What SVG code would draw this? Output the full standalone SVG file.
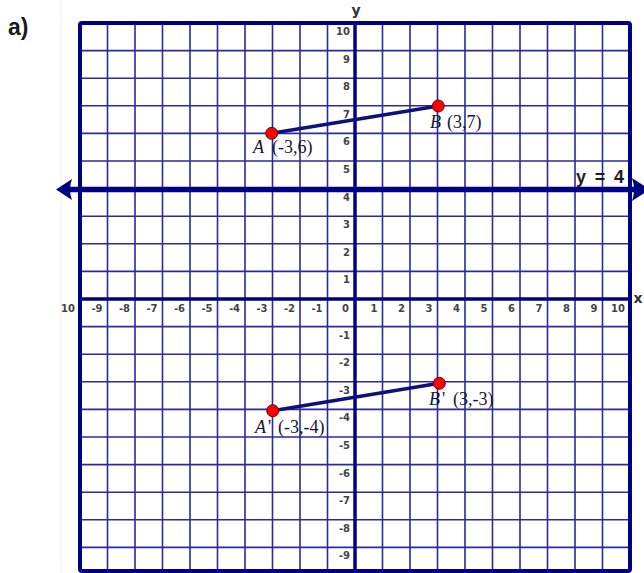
<svg xmlns="http://www.w3.org/2000/svg" width="644" height="573" viewBox="0 0 644 573">
<style>
.g{stroke:#2a2a9e;stroke-width:1.6;fill:none}
.ax{stroke:#000084;stroke-width:3.5;fill:none}
.t{font-family:"DejaVu Sans","Liberation Sans",sans-serif;font-size:10px;font-weight:bold;fill:#444444}
.ty{text-anchor:end}
.lb{font-family:"Liberation Serif","Times New Roman",serif;font-size:18px;fill:#161630}
.it{font-style:italic}
.pt{fill:#ff0000;stroke:#7a0000;stroke-width:1}
.seg{stroke:#10107a;stroke-width:3.5;fill:none;stroke-linecap:round}
</style>
<rect x="0" y="0" width="644" height="573" fill="#ffffff"/>
<line x1="61" y1="0" x2="61" y2="573" stroke="#f0f0f0" stroke-width="1"/>
<text x="8" y="35" font-family="Liberation Sans, Arial, sans-serif" font-size="23" font-weight="bold" fill="#1a1a1a">a)</text>

<g id="grid">
<g class="g">
<path d="M107.5 23V571M135 23V571M162.5 23V571M190 23V571M217.5 23V571M245 23V571M272.5 23V571M300 23V571M327.5 23V571M382.5 23V571M410 23V571M437.5 23V571M465 23V571M492.5 23V571M520 23V571M547.5 23V571M575 23V571M602.5 23V571"/>
<path d="M80 50.6H630M80 78.2H630M80 105.8H630M80 133.4H630M80 161H630M80 188.6H630M80 216.2H630M80 243.8H630M80 271.4H630M80 326.6H630M80 354.2H630M80 381.8H630M80 409.4H630M80 437H630M80 464.6H630M80 492.2H630M80 519.8H630M80 547.4H630"/>
</g>
<rect x="80" y="23" width="550" height="548" rx="2" fill="none" stroke="#000084" stroke-width="4"/>
<line class="ax" x1="80" y1="299" x2="630" y2="299"/>
<line class="ax" x1="355" y1="23" x2="355" y2="571"/>
</g>

<g id="axis-labels">
<text x="356" y="15" font-family="DejaVu Sans, sans-serif" font-size="14" font-weight="bold" fill="#333" text-anchor="middle">y</text>
<text x="638" y="303" font-family="DejaVu Sans, sans-serif" font-size="14" font-weight="bold" fill="#333" text-anchor="middle">x</text>
<g class="t ty">
<text x="350" y="35">10</text>
<text x="350" y="62.6">9</text>
<text x="350" y="90.2">8</text>
<text x="350" y="117.8">7</text>
<text x="350" y="145.4">6</text>
<text x="350" y="173">5</text>
<text x="350" y="200.6">4</text>
<text x="350" y="228.2">3</text>
<text x="350" y="255.8">2</text>
<text x="350" y="283.4">1</text>
<text x="350" y="338.6">-1</text>
<text x="350" y="366.2">-2</text>
<text x="350" y="393.8">-3</text>
<text x="350" y="421.4">-4</text>
<text x="350" y="449">-5</text>
<text x="350" y="476.6">-6</text>
<text x="350" y="504.2">-7</text>
<text x="350" y="531.8">-8</text>
<text x="350" y="559.4">-9</text>
</g>
<g class="t ty">
<text x="75" y="312">10</text>
<text x="102.5" y="312">-9</text>
<text x="130" y="312">-8</text>
<text x="157.5" y="312">-7</text>
<text x="185" y="312">-6</text>
<text x="212.5" y="312">-5</text>
<text x="240" y="312">-4</text>
<text x="267.5" y="312">-3</text>
<text x="295" y="312">-2</text>
<text x="322.5" y="312">-1</text>
<text x="349" y="312">0</text>
<text x="377.5" y="312">1</text>
<text x="405" y="312">2</text>
<text x="432.5" y="312">3</text>
<text x="460" y="312">4</text>
<text x="487.5" y="312">5</text>
<text x="515" y="312">6</text>
<text x="542.5" y="312">7</text>
<text x="570" y="312">8</text>
<text x="597.5" y="312">9</text>
<text x="625" y="312">10</text>
</g>
</g>

<g id="line-y4">
<line x1="66" y1="189.5" x2="634" y2="189.5" stroke="#000084" stroke-width="5.5"/>
<path d="M56 189.5L72 179Q68 189.5 72 200Z" fill="#000084"/>
<path d="M650 189.5L632 178Q636 189.5 632 201Z" fill="#000084"/>
<text x="576" y="183" font-family="Liberation Sans, Arial, sans-serif" font-size="18" font-weight="bold" fill="#1e1e1e" textLength="48" lengthAdjust="spacing">y = 4</text>
</g>

<g id="connectors">
<line class="seg" x1="271.7" y1="133.3" x2="438.3" y2="106"/>
<line class="seg" x1="272.7" y1="410.7" x2="439.3" y2="383.3"/>
</g>

<g id="A">
<circle class="pt" cx="271.7" cy="133.3" r="6"/>
<text class="lb" y="153"><tspan class="it" x="253">A</tspan><tspan x="272">(-3,6)</tspan></text>
</g>
<g id="B">
<circle class="pt" cx="438.3" cy="106" r="6"/>
<text class="lb" y="128"><tspan class="it" x="430">B</tspan><tspan x="447">(3,7)</tspan></text>
</g>
<g id="A-prime">
<circle class="pt" cx="272.7" cy="410.7" r="6"/>
<text class="lb" y="433"><tspan class="it" x="255">A</tspan><tspan x="268">'</tspan><tspan x="278">(-3,-4)</tspan></text>
</g>
<g id="B-prime">
<circle class="pt" cx="439.3" cy="383.3" r="6"/>
<text class="lb" y="405"><tspan class="it" x="429">B</tspan><tspan x="442">'</tspan><tspan x="453">(3,-3)</tspan></text>
</g>
</svg>
